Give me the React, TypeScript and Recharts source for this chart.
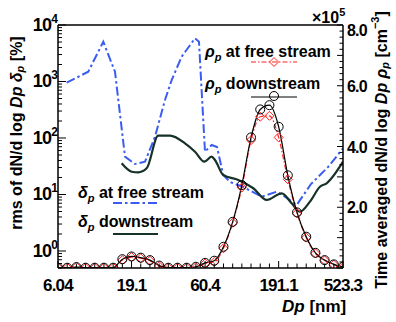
import React from 'react';
import { ComposedChart, Line, XAxis, YAxis } from 'recharts';

// particle diameter channels [nm]
const dp = [
  6.04, 6.98, 8.06, 9.3, 10.74, 12.4, 14.32, 16.54, 19.1, 22.06, 25.47, 29.42, 33.97, 39.23, 45.3, 52.31,
  60.4, 69.75, 80.55, 93.02, 107.4, 124.0, 143.2, 165.4, 191.1, 220.6, 254.8, 294.2, 339.8, 392.4, 453.1, 523.3,
];
// time averaged dN/dlogDp, x10^5 cm^-3
const rhoDown = [
  0.01, 0.01, 0.03, 0.01, 0.01, 0.01, 0.01, 0.29, 0.38, 0.34, 0.26, 0.08, 0.01, 0.01, 0.01, 0.04,
  0.17, 0.24, 0.7, 1.52, 2.73, 4.3, 5.22, 5.36, 4.65, 3.05, 1.83, 1.03, 0.5, 0.26, 0.12, 0.04,
];
const rhoFree = [
  0.01, 0.01, 0.04, 0.01, 0.01, 0.01, 0.01, 0.26, 0.36, 0.32, 0.24, 0.06, 0.01, 0.01, 0.01, 0.03,
  0.15, 0.2, 0.65, 1.49, 2.65, 4.21, 4.98, 5.01, 4.3, 2.92, 1.8, 1.0, 0.48, 0.25, 0.11, 0.03,
];

// rms of dN/dlogDp [%]
const deltaFreeDp = [
  6.92, 9.7, 12.27, 14.74, 17.24, 20.16, 23.58, 27.57, 32.24, 35.8, 41.87, 51.57, 54.9, 60.3, 66.97, 72.8,
  80.3, 89.2, 109.8, 146.5, 185.2, 211.0, 253.3, 317, 415.5, 523.3,
];
const deltaFree = [
  953, 1490, 5060, 1490, 46.7, 34.7, 38.1, 105, 471, 1060, 2750, 5820, 5060, 57.2, 75.2, 69.3,
  22.1, 16.6, 13.6, 9.15, 11.2, 9.15, 6.52, 15.3, 31.0, 65.7,
];
const deltaDownDp = [
  16.37, 19.14, 21.2, 24.2, 29.0, 34.9, 44.1, 51.6, 59.7, 66.9, 70.5, 80.3, 101.6, 128.5, 158.4, 200.4,
  234.3, 266.9, 311.9, 364.8, 405.3, 523.3,
];
const deltaDown = [
  35.6, 25.3, 24.7, 29.1, 110, 110, 80.5, 57.2, 38.1, 46.7, 40.8, 22.1, 18.1, 12.9, 8.0, 10.5,
  6.99, 4.96, 7.46, 13.7, 15.8, 38.1,
];

const xTickLabels = ['6.04', '19.1', '60.4', '191.1', '523.3'];
const leftMajorTicks = [1, 10, 100, 1000, 10000];
const rightTickLabels = ['2.0', '4.0', '6.0', '8.0'];

const rhoData = dp.map((d, i) => ({ dp: d, down: rhoDown[i], free: rhoFree[i] }));
const deltaFreeData = deltaFreeDp.map((d, i) => ({ dp: d, v: deltaFree[i] }));
const deltaDownData = deltaDownDp.map((d, i) => ({ dp: d, v: deltaDown[i] }));

const leftTicks: number[] = [0.5, 0.6, 0.7, 0.8, 0.9];
leftMajorTicks.forEach((m) => {
  for (let k = 1; k <= 9; k++) if (m * k <= 10000) leftTicks.push(m * k);
});
const rightTicks: number[] = [];
for (let k = 0; k <= 40; k++) rightTicks.push(Math.round(k * 2) / 10);

const FONT = '"Liberation Sans", Arial, Helvetica, sans-serif';
const BLUE = '#3a5cf2';
const DARK = '#16302a';
const RED = '#ff2222';

const XTick = (props: any) => {
  const { x, y, payload } = props;
  const label = xTickLabels.find((l) => Math.abs(parseFloat(l) - payload.value) < 0.05);
  return (
    <g>
      <line x1={x} x2={x} y1={y} y2={y - (label ? 7 : 4.5)} stroke="#000" strokeWidth={1} />
      {label && (
        <text x={x} y={y + 23} textAnchor="middle" fontSize={17} fontWeight="bold" fontFamily={FONT} fill="#000" letterSpacing={-0.8}>
          {label}
        </text>
      )}
    </g>
  );
};

const LeftTick = (props: any) => {
  const { x, y, payload } = props;
  const e = Math.log10(payload.value);
  const major = Math.abs(e - Math.round(e)) < 1e-6;
  return (
    <g>
      <line x1={x} x2={x + (major ? 8 : 4)} y1={y} y2={y} stroke="#000" strokeWidth={1} />
      {major && (
        <text x={x - 1} y={y + 6} textAnchor="end" fontSize={18} fontWeight="bold" fontFamily={FONT} fill="#000" letterSpacing={-0.8}>
          10
          <tspan fontSize={12} dy={-8}>{Math.round(e)}</tspan>
        </text>
      )}
    </g>
  );
};

const RightTick = (props: any) => {
  const { x, y, payload } = props;
  const v = payload.value;
  const label = rightTickLabels.find((l) => Math.abs(parseFloat(l) - v) < 1e-6);
  const major = Math.abs(v - Math.round(v)) < 1e-6;
  return (
    <g>
      <line x1={x} x2={x - (major ? 6 : 3.5)} y1={y} y2={y} stroke="#000" strokeWidth={1} />
      {label && (
        <text x={x + 4} y={y + (v === 8 ? 11 : 6)} textAnchor="start" fontSize={16} fontWeight="bold" fontFamily={FONT} fill="#000" letterSpacing={-0.8}>
          {label}
        </text>
      )}
    </g>
  );
};

const Diamond = (props: any) => {
  const { cx, cy } = props;
  if (cx == null || cy == null) return null;
  const s = 4.5;
  return (
    <polygon
      key={props.key}
      points={`${cx},${cy - s} ${cx + s},${cy} ${cx},${cy + s} ${cx - s},${cy}`}
      fill="none"
      stroke={RED}
      strokeWidth={1}
    />
  );
};

const Overlay = () => (
  <svg width={396} height={322} style={{ position: 'absolute', left: 0, top: 0, pointerEvents: 'none' }} fontFamily={FONT}>
    {/* axis titles */}
    <text transform="translate(16,133) rotate(-90)" textAnchor="middle" dominantBaseline="central" fontSize={16} fontWeight="bold">
      rms of dN/d log <tspan fontStyle="italic">Dp</tspan> <tspan fontStyle="italic">δ</tspan>
      <tspan fontStyle="italic" fontSize={11} dy={4}>p</tspan>
      <tspan dy={-4}> [%]</tspan>
    </text>
    <text transform="translate(381,150) rotate(-90)" textAnchor="middle" dominantBaseline="central" fontSize={16} fontWeight="bold">
      Time averaged dN/d log <tspan fontStyle="italic">Dp</tspan> <tspan fontStyle="italic">ρ</tspan>
      <tspan fontStyle="italic" fontSize={11} dy={4}>p</tspan>
      <tspan dy={-4}> [cm</tspan>
      <tspan fontSize={11} dy={-6}>−3</tspan>
      <tspan dy={6}>]</tspan>
    </text>
    <text x={282} y={312} fontSize={17} fontWeight="bold">
      <tspan fontStyle="italic">Dp</tspan> [nm]
    </text>
    <text x={312} y={23} fontSize={16} fontWeight="bold">
      ×10<tspan fontSize={11} dy={-7}>5</tspan>
    </text>

    {/* legends */}
    <text x={205} y={57} fontSize={16} fontWeight="bold">
      <tspan fontStyle="italic">ρ</tspan>
      <tspan fontStyle="italic" fontSize={11} dy={4}>p</tspan>
      <tspan dy={-4}> at free stream</tspan>
    </text>
    <line x1={251} x2={297} y1={62} y2={62} stroke={RED} strokeWidth={1.2} strokeDasharray="5 2 1.5 2" />
    <Diamond cx={274} cy={62} />

    <text x={205} y={89} fontSize={16} fontWeight="bold">
      <tspan fontStyle="italic">ρ</tspan>
      <tspan fontStyle="italic" fontSize={11} dy={4}>p</tspan>
      <tspan dy={-4}> downstream</tspan>
    </text>
    <line x1={251} x2={297} y1={97} y2={97} stroke="#000" strokeWidth={1.2} />
    <circle cx={274} cy={96} r={4.5} fill="none" stroke="#000" strokeWidth={1} />

    <text x={78} y={198} fontSize={16} fontWeight="bold">
      <tspan fontStyle="italic">δ</tspan>
      <tspan fontStyle="italic" fontSize={11} dy={4}>p</tspan>
      <tspan dy={-4}> at free stream</tspan>
    </text>
    <line x1={113} x2={158} y1={203} y2={203} stroke={BLUE} strokeWidth={2} strokeDasharray="9 3 2.5 3" />

    <text x={78} y={227} fontSize={16} fontWeight="bold">
      <tspan fontStyle="italic">δ</tspan>
      <tspan fontStyle="italic" fontSize={11} dy={4}>p</tspan>
      <tspan dy={-4}> downstream</tspan>
    </text>
    <line x1={113} x2={158} y1={234} y2={234} stroke={DARK} strokeWidth={2.2} />
  </svg>
);

export default function App() {
  return (
    <div style={{ position: 'absolute', left: 0, top: 0, width: 396, height: 322, background: '#fff' }}>
      <ComposedChart width={396} height={322} margin={{ top: 24, right: 52, bottom: 53, left: 57 }} style={{ fontFamily: FONT }}>
        <XAxis
          xAxisId="b"
          dataKey="dp"
          type="number"
          scale="log"
          domain={[6.04, 523.3]}
          allowDataOverflow
          ticks={dp}
          interval={0}
          height={1}
          tickSize={0}
          tickMargin={0}
          tickLine={false}
          tick={(p: any) => <XTick {...p} />}
          axisLine={{ stroke: '#000', strokeWidth: 1.5 }}
        />
        <XAxis
          xAxisId="t"
          orientation="top"
          dataKey="dp"
          type="number"
          scale="log"
          domain={[6.04, 523.3]}
          allowDataOverflow
          height={1}
          tick={false}
          tickLine={false}
          axisLine={{ stroke: '#000', strokeWidth: 1.5 }}
        />
        <YAxis
          yAxisId="l"
          type="number"
          scale="log"
          domain={[0.5, 10000]}
          allowDataOverflow
          ticks={leftTicks}
          interval={0}
          width={1}
          tickSize={0}
          tickMargin={0}
          tickLine={false}
          tick={(p: any) => <LeftTick {...p} />}
          axisLine={{ stroke: '#000', strokeWidth: 1.5 }}
        />
        <YAxis
          yAxisId="r"
          orientation="right"
          type="number"
          domain={[0, 8]}
          allowDataOverflow
          ticks={rightTicks}
          interval={0}
          width={1}
          tickSize={0}
          tickMargin={0}
          tickLine={false}
          tick={(p: any) => <RightTick {...p} />}
          axisLine={{ stroke: '#000', strokeWidth: 1.5 }}
        />

        <Line
          xAxisId="b"
          yAxisId="l"
          data={deltaFreeData}
          dataKey="v"
          type="linear"
          stroke={BLUE}
          strokeWidth={2}
          strokeDasharray="9 3 2.5 3"
          dot={false}
          isAnimationActive={false}
        />
        <Line
          xAxisId="b"
          yAxisId="l"
          data={deltaDownData}
          dataKey="v"
          type="monotone"
          stroke={DARK}
          strokeWidth={2.2}
          dot={false}
          isAnimationActive={false}
        />
        <Line
          xAxisId="b"
          yAxisId="r"
          data={rhoData}
          dataKey="free"
          type="monotone"
          stroke={RED}
          strokeWidth={1.2}
          strokeDasharray="5 2 1.5 2"
          dot={(p: any) => <Diamond {...p} />}
          isAnimationActive={false}
        />
        <Line
          xAxisId="b"
          yAxisId="r"
          data={rhoData}
          dataKey="down"
          type="monotone"
          stroke="#000"
          strokeWidth={1.2}
          dot={{ r: 4.5, fill: 'none', stroke: '#000', strokeWidth: 1 }}
          isAnimationActive={false}
        />
      </ComposedChart>
      <Overlay />
    </div>
  );
}
